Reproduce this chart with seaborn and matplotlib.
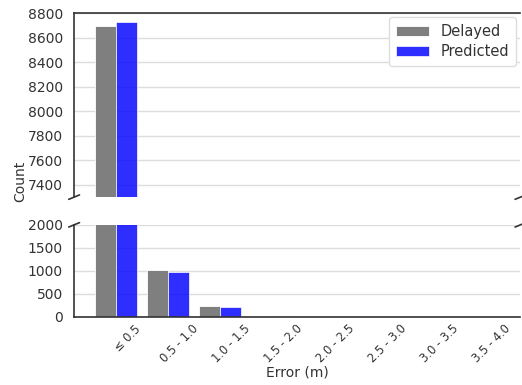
import matplotlib
matplotlib.use("Agg")
import matplotlib.pyplot as plt
import seaborn as sns
import pandas as pd
import numpy as np

categories = ["≤ 0.5", "0.5 - 1.0", "1.0 - 1.5", "1.5 - 2.0",
              "2.0 - 2.5", "2.5 - 3.0", "3.0 - 3.5", "3.5 - 4.0"]
delayed = [8695, 1025, 230, 22, 4, 1, 0, 0]
predicted = [8730, 975, 215, 10, 2, 0, 0, 0]
colors = {"Delayed": "#7f7f7f", "Predicted": "#0000ff"}

df = pd.DataFrame({
    "Error": categories * 2,
    "Count": delayed + predicted,
    "Type": ["Delayed"] * len(categories) + ["Predicted"] * len(categories),
})

sns.set_theme(style="whitegrid")
plt.rcParams["font.family"] = ["DejaVu Sans"]

fig = plt.figure(figsize=(5.22, 3.85), dpi=100)
ax_top = fig.add_axes([0.142, 0.488, 0.855, 0.478])
ax_bot = fig.add_axes([0.142, 0.177, 0.855, 0.239])

for ax in (ax_top, ax_bot):
    sns.barplot(data=df, x="Error", y="Count", hue="Type", palette=colors,
                saturation=1, width=0.8, edgecolor="white", linewidth=0.6,
                ax=ax)
    for bar in ax.patches:
        if bar.get_facecolor()[2] > 0.9 and bar.get_facecolor()[0] < 0.1:
            bar.set_alpha(0.82)
    ax.set_xlim(-0.81, 7.77)
    ax.grid(axis="x", visible=False)
    ax.grid(axis="y", color="#dddddd", linewidth=1)
    ax.set_axisbelow(True)
    ax.set_xlabel("")
    ax.set_ylabel("")
    ax.tick_params(axis="y", labelsize=10, colors="#333333", length=0, pad=8)
    for s in ax.spines.values():
        s.set_color("#333333")
        s.set_linewidth(1.2)
    ax.spines["right"].set_visible(False)

ax_top.set_ylim(7300, 8800)
ax_top.set_yticks(np.arange(7400, 8801, 200))
ax_bot.set_ylim(0, 2000)
ax_bot.set_yticks(np.arange(0, 2001, 500))

ax_top.spines["bottom"].set_visible(False)
ax_bot.spines["top"].set_visible(False)
ax_top.tick_params(axis="x", bottom=False, labelbottom=False)

ax_top.get_legend().remove()
h, l = ax_bot.get_legend_handles_labels()
ax_bot.get_legend().remove()
leg = ax_top.legend(h, l, loc="upper right", fontsize=10.5, frameon=True,
                    edgecolor="#dddddd", framealpha=1, borderaxespad=0.3,
                    handlelength=2.3, handleheight=0.6, labelspacing=0.35,
                    borderpad=0.45)
for t in leg.get_texts():
    t.set_color("#333333")

ax_bot.set_xticks(np.arange(len(categories)) + 0.22)
ax_bot.set_xticklabels(categories, rotation=45, ha="center", fontsize=8.3,
                       color="#333333")
ax_bot.tick_params(axis="x", length=0, pad=4)

# break marks
d = 0.012
kw = dict(color="#333333", clip_on=False, linewidth=1.2)
ax_top.plot((-d, +d), (-d, +d), transform=ax_top.transAxes, **kw)
ax_top.plot((1 - d, 1 + d), (-d, +d), transform=ax_top.transAxes, **kw)
ax_bot.plot((-d, +d), (1 - 2 * d, 1 + 2 * d), transform=ax_bot.transAxes, **kw)
ax_bot.plot((1 - d, 1 + d), (1 - 2 * d, 1 + 2 * d), transform=ax_bot.transAxes, **kw)

fig.text(0.038, 0.53, "Count", rotation=90, va="center", ha="center",
         fontsize=10, color="#333333")
fig.text(0.57, 0.033, "Error (m)", ha="center", va="center",
         fontsize=10, color="#333333")

fig.savefig("out.png", dpi=100)
